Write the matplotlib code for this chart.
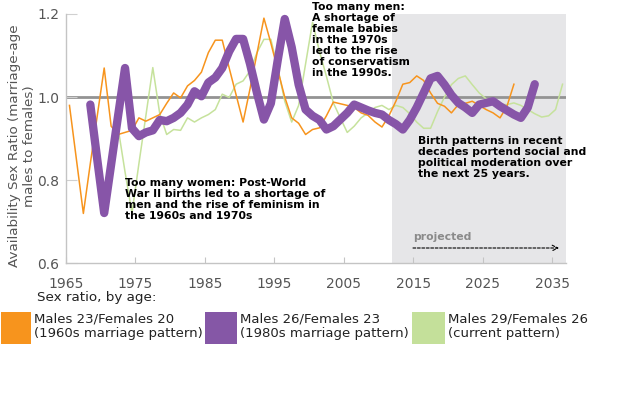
import numpy as np
import matplotlib
matplotlib.use('Agg')
import matplotlib.pyplot as plt
from matplotlib.patches import Rectangle

# sex ratio series, one value per year
years_23_20 = np.arange(1965, 2030)
ratio_23_20 = [0.98, 0.85, 0.72, 0.84, 0.955, 1.07, 0.93, 0.91, 0.915, 0.92,
               0.95, 0.942, 0.95, 0.958, 0.985, 1.01, 0.998, 1.027, 1.04, 1.06,
               1.107, 1.137, 1.137, 1.07, 1.005, 0.94, 1.02, 1.105, 1.19, 1.13,
               1.065, 1.0, 0.95, 0.937, 0.91, 0.922, 0.926, 0.955, 0.988, 0.984,
               0.98, 0.975, 0.962, 0.956, 0.94, 0.928, 0.955, 0.99, 1.031, 1.035,
               1.051, 1.04, 1.01, 0.985, 0.978, 0.962, 0.982, 0.985, 0.99, 0.98,
               0.97, 0.962, 0.95, 0.978, 1.031]

years_26_23 = np.arange(1968, 2033)
ratio_26_23 = [0.982, 0.85, 0.721, 0.838, 0.955, 1.07, 0.925, 0.906, 0.915, 0.92,
               0.945, 0.942, 0.95, 0.962, 0.982, 1.014, 1.002, 1.035, 1.047, 1.07,
               1.11, 1.14, 1.14, 1.08, 1.01, 0.946, 0.985, 1.09, 1.188, 1.12,
               1.03, 0.97, 0.955, 0.945, 0.922, 0.93, 0.946, 0.962, 0.982, 0.975,
               0.968, 0.962, 0.958, 0.945, 0.935, 0.922, 0.945, 0.975, 1.01, 1.045,
               1.051, 1.03, 1.005, 0.986, 0.975, 0.962, 0.982, 0.986, 0.99, 0.978,
               0.968, 0.958, 0.95, 0.975, 1.031]

years_29_26 = np.arange(1972, 2037)
ratio_29_26 = [0.926, 0.82, 0.721, 0.84, 0.955, 1.071, 0.96, 0.91, 0.922, 0.92,
               0.95, 0.94, 0.95, 0.958, 0.97, 1.007, 0.999, 1.031, 1.039, 1.063,
               1.107, 1.139, 1.139, 1.07, 0.99, 0.94, 0.98, 1.08, 1.18, 1.11,
               1.05, 0.986, 0.95, 0.915, 0.93, 0.95, 0.962, 0.975, 0.98, 0.97,
               0.98, 0.975, 0.96, 0.94, 0.925, 0.925, 0.965, 1.0, 1.03, 1.045,
               1.051, 1.03, 1.01, 0.996, 0.99, 0.982, 0.982, 0.986, 0.98, 0.97,
               0.96, 0.952, 0.955, 0.97, 1.031]

xticks = [1965, 1975, 1985, 1995, 2005, 2015, 2025, 2035]
yticks = [0.6, 0.8, 1.0, 1.2]
projected_from = 2012

c_orange = '#f7941d'
c_purple = '#8755a8'
c_green = '#c6e29c'

W, H = 620, 400
fig = plt.figure(figsize=(W / 100, H / 100), dpi=100)
fig.patch.set_facecolor('white')

def px(x, y):
    # pixel position (from top-left) -> figure fraction
    return x / W, 1 - y / H

ax = fig.add_axes([66 / W, 1 - 263.3 / H, 500 / W, 249.3 / H])
ax.set_xlim(1965, 2037)
ax.set_ylim(0.6, 1.2)

ax.axvspan(projected_from, 2037, color='#e6e6e8', lw=0, zorder=0)
ax.axhline(1.0, color='#939393', lw=2, zorder=1)

# data plotted at mid-year
ax.plot(years_23_20 + 0.5, ratio_23_20, color=c_orange, lw=1.1, zorder=3, clip_on=False)
ax.plot(years_29_26 + 0.5, ratio_29_26, color=c_green, lw=1.1, zorder=2, clip_on=False)
ax.plot(years_26_23 + 0.5, ratio_26_23, color=c_purple, lw=6,
        solid_capstyle='round', solid_joinstyle='round', zorder=4, clip_on=False)

for s in ['top', 'right']:
    ax.spines[s].set_visible(False)
for s in ['left', 'bottom']:
    ax.spines[s].set_color('#c4c4c4')
    ax.spines[s].set_linewidth(1)

tick_font = ['Liberation Sans Narrow', 'DejaVu Sans']
ax.set_xticks(xticks)
ax.set_xticklabels([str(t) for t in xticks], family=tick_font, fontsize=10, color='#555555')
ax.set_yticks(yticks)
ax.set_yticklabels(['%.1f' % t for t in yticks], family=tick_font, fontsize=10, color='#555555')
ax.tick_params(axis='x', direction='in', length=4, color='#c4c4c4', pad=10)
ax.tick_params(axis='y', direction='in', length=8, color='#d0d0d0', pad=5)

fig.text(*px(22, 146), 'Availability Sex Ratio (marriage-age\nmales to females)',
         rotation=90, ha='center', va='center', multialignment='center',
         fontsize=9.7, color='#555555', linespacing=1.1)

note = dict(fontsize=7.8, fontweight='bold', color='black', linespacing=1.12,
            ha='left', va='top')
fig.text(*px(312, 2), 'Too many men:\nA shortage of\nfemale babies\nin the 1970s\n'
         'led to the rise\nof conservatism\nin the 1990s.', **note)
fig.text(*px(125, 178), 'Too many women: Post-World\nWar II births led to a shortage of\n'
         'men and the rise of feminism in\nthe 1960s and 1970s', **note)
fig.text(*px(418, 136), 'Birth patterns in recent\ndecades portend social and\n'
         'political moderation over\nthe next 25 years.', **note)

fig.text(*px(413, 237), 'projected', fontsize=7.8, fontweight='bold', color='#8a8a8a',
         ha='left', va='center')
ax.annotate('', xy=px(559, 248), xytext=px(413, 248), xycoords='figure fraction',
            textcoords='figure fraction',
            arrowprops=dict(arrowstyle='->', color='black', lw=0.8, linestyle=(0, (2.5, 1.5)),
                            shrinkA=0, shrinkB=0))

# legend
fig.text(*px(37, 298), 'Sex ratio, by age:', fontsize=9.7, color='#222222', va='center')
legend_items = [(1, 31, c_orange, 'Males 23/Females 20\n(1960s marriage pattern)'),
                (205, 237, '#8557a6', 'Males 26/Females 23\n(1980s marriage pattern)'),
                (412, 445, '#c4e09a', 'Males 29/Females 26\n(current pattern)')]
for x0, x1, col, lab in legend_items:
    fx, fy = px(x0, 344)
    fig.patches.append(Rectangle((fx, fy), (x1 - x0) / W, 32 / H, transform=fig.transFigure,
                                 facecolor=col, edgecolor='none'))
    fig.text(*px(x1 + 3, 326), lab, fontsize=9.5, color='#222222', va='center',
             linespacing=1.1)

fig.savefig('out.png', dpi=100)
